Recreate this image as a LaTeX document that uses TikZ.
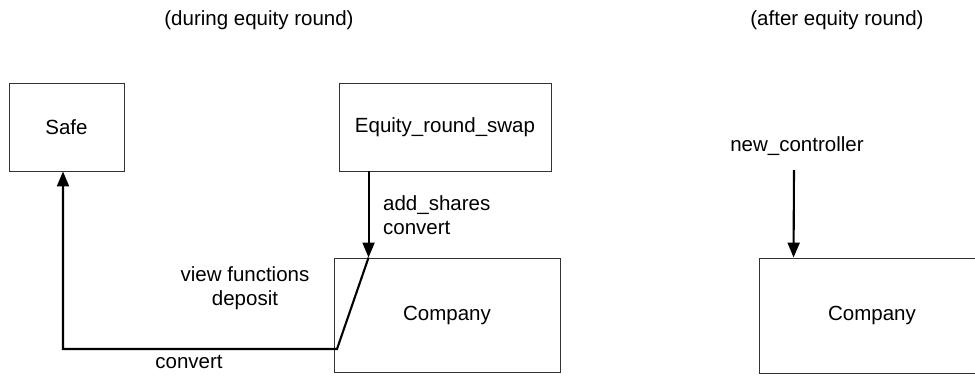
\documentclass[tikz,border=0pt]{standalone}
\usepackage{fontspec}
\setmainfont{Liberation Sans}
\usetikzlibrary{arrows.meta}

\tikzset{
  box/.style={draw=black!80, line width=0.9pt, rectangle, inner sep=0pt},
  call/.style={line width=2.1pt, -{Triangle[length=15pt,width=12pt]}},
  lbl/.style={inner sep=0pt, align=center}
}

\begin{document}
\begin{tikzpicture}[x=1pt, y=-1pt, font=\fontsize{20.5}{24}\selectfont]
		% Frame of the picture
		\useasboundingbox (0,0) rectangle (975,375);
		\clip (0,0) rectangle (975,375);
		
		% Headings of the two stages
		\node[lbl] (during) at (259,20) {(during equity round)};
		\node[lbl] (after) at (837,20) {(after equity round)};
		
		% Contracts during the equity round
		\node[box, minimum width=115, minimum height=88] (safe) at (66.5,127) {Safe};
		\node[box, minimum width=212, minimum height=88] (swap) at (445,127) {Equity\_round\_swap};
		\node[box, minimum width=226, minimum height=114] (company) at (447,315) {Company};
		
		% Swap calls into the company
		\draw[call] ([xshift=30]swap.south west) -- ([xshift=35]company.north west);
		\node[lbl, anchor=west, align=left] (swapcalls) at (383,215) {add\_shares\\convert};
		
		% Company calls back into the safe
		\coordinate (bend) at (337,349);
		\coordinate (safein) at ([xshift=-3.5]safe.south);
		\draw[call] ([xshift=35]company.north west) -- (bend) -- (bend -| safein) -- (safein);
		\node[lbl] (safecalls) at (245,288) {view functions\\deposit};
		\node[lbl] (convert) at (189,362) {convert};
		
		% Company after the equity round
		\node[box, minimum width=226, minimum height=115] (newcompany) at (872,315.5) {Company};
		\node[lbl] (ctrl) at (797,146) {new\_controller};
		\coordinate (ctrlstart) at (794,170);
		\draw[call] (ctrlstart) -- ([xshift=35]newcompany.north west);
		
	\end{tikzpicture}
\end{document}
